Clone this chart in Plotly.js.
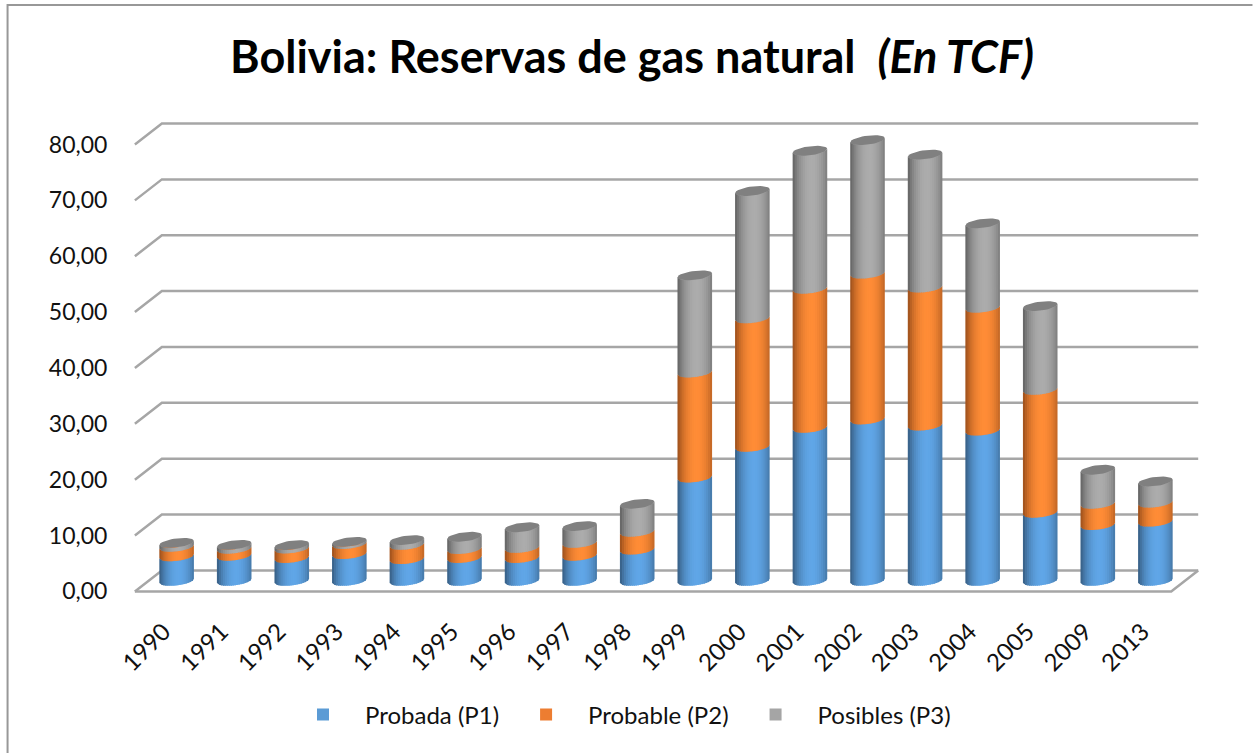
<!DOCTYPE html>
<html>
<head>
<meta charset="utf-8">
<script src="https://cdn.plot.ly/plotly-3.0.1.min.js"></script>
<style>html,body{margin:0;padding:0;background:#fff}#chart{width:1253px;height:753px}</style>
</head>
<body>
<div id="chart"></div>
<script>
const years = ["1990","1991","1992","1993","1994","1995","1996","1997","1998","1999","2000","2001","2002","2003","2004","2005","2009","2013"];
const probada  = [4.4,4.5,4.1,4.8,3.9,4.1,4.1,4.5,5.6,18.5,24.0,27.4,28.9,27.8,26.9,12.2,10.0,10.6];
const probable = [1.7,1.25,1.7,1.8,2.55,1.6,1.8,2.3,3.2,18.8,23.0,24.9,26.1,24.7,22.0,22.0,3.8,3.4];
const posibles = [0.7,0.7,0.6,0.4,0.85,2.2,3.7,3.0,5.0,17.4,22.8,24.7,23.9,23.8,15.1,15.0,6.1,3.8];
const yTicks = [0,10,20,30,40,50,60,70,80];
const yTickLabels = ["0,00","10,00","20,00","30,00","40,00","50,00","60,00","70,00","80,00"];
const seriesNames = ["Probada (P1)","Probable (P2)","Posibles (P3)"];
const seriesColors = ["#5B9BD5","#ED7D31","#A5A5A5"];
const seriesLit = [[96,166,231],[255,140,54],[172,172,172]];
const seriesEdge = [[58,100,140],[165,85,30],[105,105,105]];
const capColor = "#808080";
const gridColor = "#A6A6A6";

// Geometry of the pseudo-3D plot, in axis units.
const pxX = 57.6, pxY = 5.5875;
const xRange = [-0.55, 18.0], yRange = [-1, 86];
const depthX = 27/pxX, depthY = 21/pxY;
const barOffset = 0.225, barHalf = 17.3/pxX;
const ellB = 4.5/pxY, ellTilt = 2/pxY;
const floorV = 1.88;
const nStrips = 17;

const series = [probada, probable, posibles];
const idx = years.map((_, i) => i);
let cum = years.map(() => floorV);
const traces = [], overlays = [];
series.forEach((vals, s) => {
  const base = cum.slice();
  traces.push({
    type: "bar", name: seriesNames[s], x: idx, y: vals, base: base,
    width: barHalf*2*0.95, offset: barOffset - barHalf*0.95,
    marker: {color: seriesColors[s], line: {width: 0}},
    hovertemplate: "%{x}: %{y:.2f}<extra>" + seriesNames[s] + "</extra>"
  });
  const top = base.map((b, i) => b + vals[i]);
  for (let k = 0; k < nStrips; k++) {
    const u0 = -1 + 2*k/nStrips;
    const u1 = Math.min(1, -1 + 2*(k+1.4)/nStrips);
    const um = -1 + 2*(k+0.5)/nStrips;
    const t = Math.pow(Math.max(0, Math.cos((um-0.1)*Math.PI/2)), 0.7);
    const c = seriesLit[s].map((l, j) => Math.round(seriesEdge[s][j] + (l - seriesEdge[s][j])*t));
    const xs = [], ys = [];
    const edge = (cy, u) => cy - ellB*Math.sqrt(Math.max(0, 1 - u*u)) + ellTilt*u;
    idx.forEach(i => {
      const cx = i + barOffset;
      xs.push(cx + barHalf*u0, cx + barHalf*u1, cx + barHalf*u1, cx + barHalf*u0, cx + barHalf*u0, null);
      ys.push(edge(base[i], u0), edge(base[i], u1), edge(top[i], u1), edge(top[i], u0), edge(base[i], u0), null);
    });
    overlays.push({type: "scatter", mode: "lines", x: xs, y: ys, fill: "toself",
      fillcolor: `rgb(${c.join(",")})`, line: {width: 0}, hoverinfo: "skip", showlegend: false});
  }
  cum = top;
});
// caps
const capX = [], capY = [];
idx.forEach(i => {
  for (let a = 0; a <= 40; a++) {
    const th = a/40*2*Math.PI, u = Math.cos(th);
    capX.push(i + barOffset + barHalf*u);
    capY.push(cum[i] + ellB*Math.sin(th) + ellTilt*u);
  }
  capX.push(null); capY.push(null);
});
overlays.push({type: "scatter", mode: "lines", x: capX, y: capY, fill: "toself",
  fillcolor: capColor, line: {width: 0}, hoverinfo: "skip", showlegend: false});

// Gridlines with the perspective return, built from the tick values.
const xFront = -0.5, xEnd = 17.5;
const shapes = yTicks.map(v => ({
  type: "path", xref: "x", yref: "y", layer: "below",
  path: `M${xFront},${v} L${xFront+depthX},${v+depthY} L${xEnd+depthX},${v+depthY}`,
  line: {color: gridColor, width: 2.5}
}));
shapes.push({type: "path", xref: "x", yref: "y", layer: "below",
  path: `M${xFront},0 L${xEnd},0 L${xEnd+depthX},${depthY}`, line: {color: gridColor, width: 2.5}});

const W = 1253, H = 753, L = 132, R = 52.5, T = 110.6, B = 156.4;
const pw = W-L-R, ph = H-T-B;
// Frame of the picture: only its top and left edges are inside the crop.
shapes.push({type: "path", xref: "paper", yref: "paper", layer: "below",
  path: `M${(7.5-L)/pw},${1-(753-T)/ph} L${(7.5-L)/pw},${1-(4.5-T)/ph} L${(1253-L)/pw},${1-(4.5-T)/ph}`,
  line: {color: "#989898", width: 2}});

const layout = {
  width: W, height: H, paper_bgcolor: "#fff", plot_bgcolor: "rgba(0,0,0,0)",
  margin: {l: L, r: R, t: T, b: B, pad: 0},
  barmode: "overlay", showlegend: true,
  font: {family: "Lato, 'Open Sans', sans-serif", color: "#000"},
  title: {text: "<b>Bolivia: Reservas de gas natural  <i>(En TCF)</i></b>",
    font: {family: "Lato, sans-serif", size: 45, color: "#000"},
    x: 632/W, xanchor: "center", y: 1-57/H, yanchor: "middle", xref: "container", yref: "container"},
  xaxis: {range: xRange, tickmode: "array", tickvals: idx, ticktext: years, tickangle: -45,
    showgrid: false, zeroline: false, showline: false, ticks: "outside", ticklen: 10, tickcolor: "rgba(0,0,0,0)",
    tickfont: {size: 24, color: "#111"}, fixedrange: true},
  yaxis: {range: yRange, tickmode: "array", tickvals: yTicks, ticktext: yTickLabels,
    showgrid: false, zeroline: false, showline: false, ticks: "outside", ticklen: 19, tickcolor: "rgba(0,0,0,0)",
    tickfont: {size: 23, color: "#111"}, fixedrange: true},
  legend: {orientation: "h", xref: "container", yref: "container", x: 281/W, y: 1-715/H, xanchor: "left", yanchor: "middle",
    itemwidth: 74, itemclick: false, font: {size: 24, color: "#111"}, bgcolor: "rgba(0,0,0,0)"},
  shapes: shapes
};
Plotly.newPlot("chart", traces.concat(overlays), layout, {displayModeBar: false, staticPlot: true});
</script>
</body>
</html>
